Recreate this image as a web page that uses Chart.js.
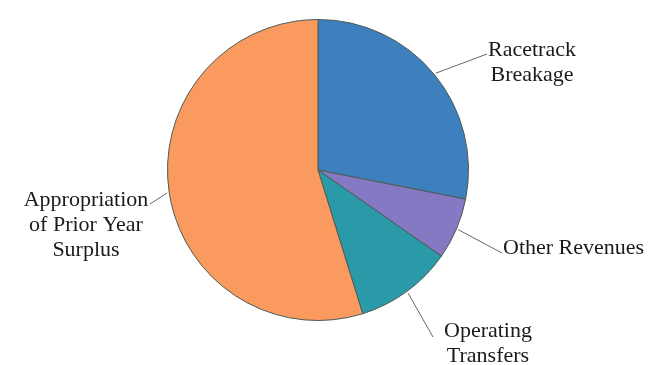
<!DOCTYPE html>
<html>
<head>
<meta charset="utf-8">
<script src="https://cdn.jsdelivr.net/npm/chart.js@4.4.1/dist/chart.umd.min.js"></script>
<style>
  html, body { margin: 0; padding: 0; background: #fff; }
  #revenuePie { display: block; }
</style>
</head>
<body>
<canvas id="revenuePie" width="656" height="365"></canvas>
<script>
// Revenue sources, share of total (%)
const sources = ["Racetrack Breakage", "Other Revenues", "Operating Transfers", "Appropriation of Prior Year Surplus"];
const shares = [28.1, 6.6, 10.5, 54.8];
const sliceColors = ["#3e80bd", "#8479c2", "#2a9aa8", "#fb9a5f"];

// Label text lines, and where each label block sits
const labelLines = [
  ["Racetrack", "Breakage"],
  ["Other Revenues"],
  ["Operating", "Transfers"],
  ["Appropriation", "of Prior Year", "Surplus"]
];
const labelLayout = [
  { x: 532, y: 56, align: "center", lineTo: [487, 54] },
  { x: 503, y: 254, align: "left", lineTo: [502, 253] },
  { x: 488, y: 337, align: "center", lineTo: [433, 337] },
  { x: 86, y: 206, align: "center", lineTo: [150, 204] }
];

// draws the outside labels with thin leader lines from each slice's middle
const leaderLabels = {
  id: "leaderLabels",
  afterDraw(chart) {
    const ctx = chart.ctx;
    const arcs = chart.getDatasetMeta(0).data;
    ctx.save();
    ctx.font = "22px 'Liberation Serif', 'Times New Roman', serif";
    ctx.fillStyle = "#1a1a1a";
    ctx.strokeStyle = "#666";
    ctx.lineWidth = 1;
    arcs.forEach((arc, i) => {
      const { startAngle, endAngle, outerRadius, x, y } = arc.getProps(["startAngle", "endAngle", "outerRadius", "x", "y"], true);
      const mid = (startAngle + endAngle) / 2;
      const r = outerRadius + 2;
      const lay = labelLayout[i];
      ctx.beginPath();
      ctx.moveTo(x + Math.cos(mid) * r, y + Math.sin(mid) * r);
      ctx.lineTo(lay.lineTo[0], lay.lineTo[1]);
      ctx.stroke();
      ctx.textAlign = lay.align;
      ctx.textBaseline = "alphabetic";
      labelLines[i].forEach((line, k) => {
        ctx.fillText(line, lay.x, lay.y + k * 25);
      });
    });
    ctx.restore();
  }
};

new Chart(document.getElementById("revenuePie"), {
  type: "pie",
  data: {
    labels: sources,
    datasets: [{
      data: shares,
      backgroundColor: sliceColors,
      borderColor: "#4d5a55",
      borderWidth: 1
    }]
  },
  options: {
    responsive: false,
    animation: false,
    layout: { padding: { left: 167, right: 187, top: 19, bottom: 44 } },
    plugins: {
      legend: { display: false },
      tooltip: { enabled: false }
    }
  },
  plugins: [leaderLabels]
});
</script>
</body>
</html>
